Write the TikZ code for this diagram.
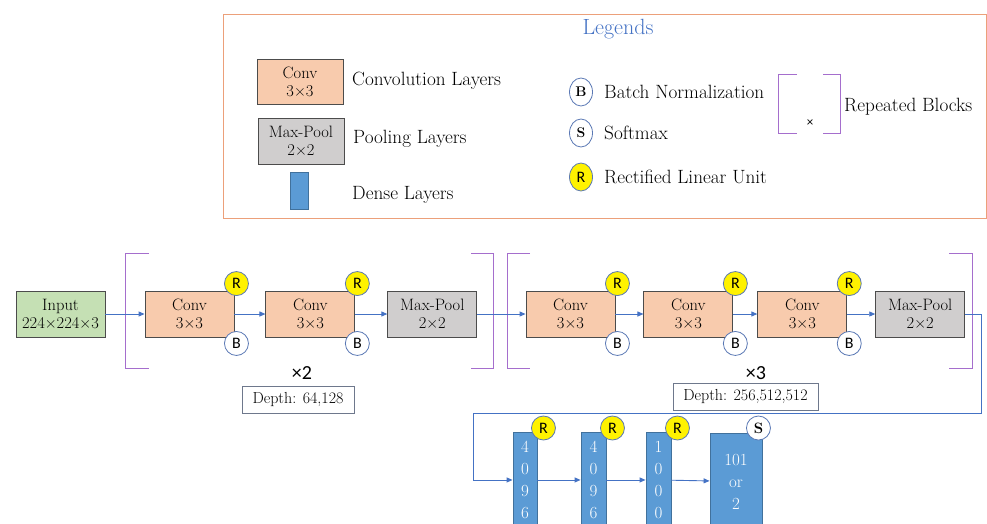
\documentclass[tikz,border=0pt]{standalone}
\usepackage{fontspec}
\newfontfamily\calibri{Carlito}
\usetikzlibrary{positioning,calc,arrows.meta,shapes.geometric}

\definecolor{convfill}{RGB}{248,203,173}
\definecolor{poolfill}{RGB}{208,206,206}
\definecolor{inputfill}{RGB}{197,224,180}
\definecolor{densefill}{RGB}{91,155,213}
\definecolor{denseline}{RGB}{65,113,156}
\definecolor{linkblue}{RGB}{68,114,196}
\definecolor{tagline}{RGB}{90,120,180}
\definecolor{bracketline}{RGB}{165,110,205}
\definecolor{legendline}{RGB}{236,160,122}
\definecolor{depthline}{RGB}{110,120,140}

\newcommand\legfont{\fontsize{19.2}{22}\selectfont}
\newcommand\boxfont{\fontsize{16.5}{18}\selectfont}

\tikzset{
	layer/.style={draw=black!70, line width=0.9pt, minimum width=89pt, minimum height=46pt,
		inner sep=0pt, align=center, font=\boxfont},
	conv/.style={layer, fill=convfill},
	pool/.style={layer, fill=poolfill},
	inputbox/.style={layer, fill=inputfill},
	dense/.style={draw=denseline, line width=0.9pt, fill=densefill, text=white, anchor=north,
		inner sep=0pt, align=center, font=\fontsize{17}{22}\selectfont},
	tag/.style={circle, draw=tagline, line width=0.8pt, fill=white, minimum size=24pt,
		inner sep=0pt, font=\calibri\fontsize{16}{16}\selectfont},
	relu/.style={tag, fill=yellow},
	legtag/.style={ellipse, draw=tagline, line width=0.8pt, fill=white, minimum width=23pt,
		minimum height=28pt, inner sep=0pt},
	legtext/.style={anchor=west, inner sep=0pt, font=\legfont},
	depthbox/.style={draw=depthline, line width=0.8pt, minimum height=27pt, inner sep=0pt,
		font=\fontsize{16}{18}\selectfont},
	times/.style={font=\calibri\fontsize{20}{20}\selectfont, inner sep=0pt},
	repeat/.style={draw=bracketline, line width=1pt},
	link/.style={draw=linkblue, line width=0.9pt, -{Triangle[length=6pt,width=5pt]}},
}

\begin{document}
\begin{tikzpicture}[x=1pt,y=-1pt]
	\useasboundingbox (0,0) rectangle (987,523);

	% legend
	\draw[draw=legendline, line width=0.9pt] (223,14) rectangle (986,218);
	\node[text=linkblue, font=\fontsize{22}{24}\selectfont] (legtitle) at (618,29) {Legends};

	\node[conv, minimum width=86pt, minimum height=45pt] (legconv) at (300,81.5) {Conv\\3×3};
	\node[legtext] (legconvtxt) at (352,81) {Convolution Layers};
	\node[pool, minimum width=86pt, minimum height=46pt] (legpool) at (301,141) {Max-Pool\\2×2};
	\node[legtext] (legpooltxt) at (353,139) {Pooling Layers};
	\node[dense, minimum width=18pt, minimum height=37pt] (legdense) at (299,172) {};
	\node[legtext] (legdensetxt) at (352,195) {Dense Layers};

	\node[legtag, font=\bfseries\fontsize{14}{14}\selectfont] (legbn) at (581,92) {B};
	\node[legtext] (legbntxt) at (604,92) {Batch Normalization};
	\node[legtag, font=\bfseries\fontsize{14}{14}\selectfont] (legsm) at (581,133) {S};
	\node[legtext] (legsmtxt) at (604,133) {Softmax};
	\node[legtag, fill=yellow, font=\calibri\fontsize{16}{16}\selectfont] (legrelu) at (581,177) {R};
	\node[legtext] (legrelutxt) at (604,177) {Rectified Linear Unit};

	\draw[repeat] (797,74) -| (778,133) -- (797,133);
	\draw[repeat] (823,74) -| (840,133) -- (823,133);
	\node[font=\calibri\fontsize{13}{13}\selectfont, inner sep=0pt] (legtimes) at (810,123) {×};
	\node[legtext] (legrepeattxt) at (844,107) {Repeated Blocks};

	% first repeated block
	\node[inputbox] (input) at (60.5,314) {Input\\224×224×3};
	\node[conv] (conv1) at (189.5,314) {Conv\\3×3};
	\node[conv, right=31pt of conv1] (conv2) {Conv\\3×3};
	\node[pool, right=32pt of conv2] (pool1) {Max-Pool\\2×2};
	\foreach \c in {1,2}{
		\node[relu] (relu\c) at ($(conv\c.north east)+(2,-7)$) {R};
		\node[tag] (bn\c) at ($(conv\c.south east)+(2,6)$) {B};
	}
	\draw[repeat] (149,253) -| (125,368) -- (149,368);
	\draw[repeat] (471,253) -| (493,368) -- (471,368);
	\node[times] (times1) at (302,373) {×2};
	\node[depthbox, minimum width=112pt] (depth1) at (298,399.5) {Depth: 64,128};

	% second repeated block
	\node[conv] (conv3) at (570.5,314) {Conv\\3×3};
	\node[conv, right=28pt of conv3] (conv4) {Conv\\3×3};
	\node[conv, right=24pt of conv4] (conv5) {Conv\\3×3};
	\node[pool, right=28pt of conv5] (pool2) {Max-Pool\\2×2};
	\foreach \c in {3,4,5}{
		\node[relu] (relu\c) at ($(conv\c.north east)+(2,-7)$) {R};
		\node[tag] (bn\c) at ($(conv\c.south east)+(2,6)$) {B};
	}
	\draw[repeat] (530,253) -| (507,368) -- (530,368);
	\draw[repeat] (949,253) -| (972,368) -- (949,368);
	\node[times] (times2) at (756,373) {×3};
	\node[depthbox, minimum width=145pt] (depth2) at (745.5,396.5) {Depth: 256,512,512};

	% dense layers
	\node[dense, minimum width=24pt, minimum height=95pt] (dense1) at (525,432) {4\\0\\9\\6};
	\node[dense, minimum width=25pt, minimum height=95pt] (dense2) at (593.5,432) {4\\0\\9\\6};
	\node[dense, minimum width=25pt, minimum height=95pt] (dense3) at (658.5,432) {1\\0\\0\\0};
	\node[dense, minimum width=52pt, minimum height=96pt] (dense4) at (736,433) {101\\or\\2};
	\foreach \d in {1,2,3}{
		\node[relu] (relu\d d) at ($(dense\d.north east)+(6,-4)$) {R};
	}
	\node[tag, font=\bfseries\fontsize{15}{15}\selectfont] (softmax) at ($(dense4.north east)+(-4,-5)$) {S};

	% connections
	\coordinate (turnA) at (981,413);
	\coordinate (turnB) at (473,413);
	\draw[link] (input) -- (conv1);
	\draw[link] (conv1) -- (conv2);
	\draw[link] (conv2) -- (pool1);
	\draw[link] (pool1) -- (conv3);
	\draw[link] (conv3) -- (conv4);
	\draw[link] (conv4) -- (conv5);
	\draw[link] (conv5) -- (pool2);
	\draw[link] (pool2.east) -| (turnA) -- (turnB) |- (dense1.west);
	\draw[link] (dense1) -- (dense2);
	\draw[link] (dense2) -- (dense3);
	\draw[link] (dense3) -- (dense4);
\end{tikzpicture}
\end{document}
